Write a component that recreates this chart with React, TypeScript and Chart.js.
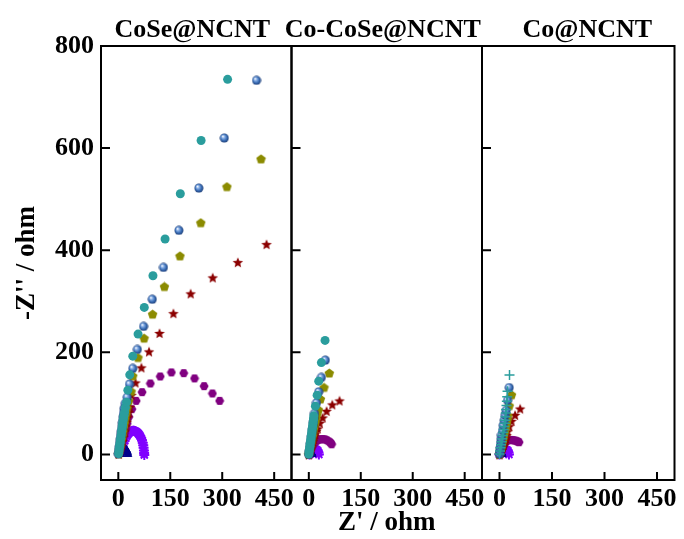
import React, { useEffect, useRef } from 'react';
import { Chart, registerables } from 'chart.js';

Chart.register(...registerables);

type Pt = [number, number];

// ---------- text / ticks ----------
const panelTitles = ['CoSe@NCNT', 'Co-CoSe@NCNT', 'Co@NCNT'];
const xAxisTitle = "Z' / ohm";
const yAxisTitle = "-Z'' / ohm";
const xTickValues = [0, 150, 300, 450];
const yTickValues = [0, 200, 400, 600, 800];
const xRange = [-50, 500];
const yRange = [-50, 800];

// ---------- panel 1 : CoSe@NCNT ----------
const cose_teal: Pt[] = [[1,2],[2,7],[3,12],[4,17],[5,22],[6,27],[7,32],[8,37],[9,42],[10,47],[11,52],[12,57],[13,62],[14,67],[15,72],[16.5,77],[18,83],[20.5,92],[23.7,102.5],[27.5,126],[33,156],[41.8,192.6],[57,235.7],[75,288],[100,350],[135,422],[179,510.6],[239,615],[315.5,734.7]];
const cose_blue: Pt[] = [[0,1],[1,5],[2,10],[3,15],[4,20],[5,25],[6,30],[7,35],[8,40],[9,45],[10,50],[11,56],[12,62],[13,68],[14,74],[15,81],[16,90],[20,100],[25.7,112],[32.3,137.7],[41.8,168.5],[55,205.7],[73,250.8],[98,304],[130.4,366.4],[175,439],[232.5,521.7],[306,619.7],[399,732.7]];
const cose_olive: Pt[] = [[1,1],[3,8],[5,15],[7,22],[9,29],[11,36],[13,44],[15,52],[17,60],[19,68],[22,78],[25,90],[30,104],[37,122.6],[41.8,153],[57,189],[74.4,227],[99,274],[133,328],[178,388],[238,453],[313.5,523.7],[412,578]];
const cose_red: Pt[] = [[1,1],[3,5],[6,11],[9,18],[12,26],[15,35],[18,45],[21,55],[24,64],[27,73],[30,83],[33,93.3],[38,116.8],[49.5,141],[66.6,170.5],[88.7,201.8],[119,238],[159,276.8],[208.8,315.4],[272.6,346.8],[345,376.8],[428,412]];
const cose_purple: Pt[] = [[1,2],[4,8],[7,14],[10,21],[13,28],[16,35],[19,42],[22,50],[25.7,60.7],[30.3,73.7],[39,88.8],[51.5,105],[68.6,122],[92.4,139],[121,152.8],[153.3,160.7],[188.8,159.3],[220,149],[247.7,133.8],[271.7,119.5],[292.6,105]];
const cose_violet: Pt[] = [[6,4],[9,10],[12,16],[15,22],[18,27],[21,32],[24,36],[27,39],[30,41.5],[33,43.5],[36,45],[39,46],[42,46.5],[45,46.5],[48,46],[51,45],[54,43.5],[57,41.5],[60,39],[63,36],[66,32],[68.5,28],[70.5,23],[72,18],[73,13],[74,8],[74.5,3],[75,-1]];
const cose_navy: Pt[] = [[10,0],[12,4],[14,7],[16,9],[18,10.5],[20,11],[22,10.5],[24,9],[26,7],[28,4],[29,0]];

// ---------- panel 2 : Co-CoSe@NCNT ----------
const cocose_teal: Pt[] = [[0,1],[1,6],[2,11],[3,16],[4,21],[5,26],[6,31],[7,36],[8,41],[9,46],[10,51],[11,56],[12,61],[13,66],[13.6,70],[14.3,75.6],[19,94.6],[24,116.2],[28.6,143.6],[36.3,180],[46.9,223.4]];
const cocose_blue: Pt[] = [[0,0],[1.5,7],[3,14],[4.5,21],[6,28],[7.5,35],[9,42],[10.5,49],[12,56],[13.5,63],[15,71],[16.3,80.3],[22,101],[28.6,122.6],[36.3,150.9],[47.7,184.7]];
const cocose_olive: Pt[] = [[0,0],[2,7],[4,14],[6,21],[8,28],[10,35],[12,42],[14,49],[16,56],[18,62],[20,68],[23,76],[27.7,86.8],[33.4,107.8],[44,130.5],[59,158.7]];
const cocose_red: Pt[] = [[0,0],[2,4],[4,8],[6,12],[8,16],[10,21],[12,26],[14,31],[16,36],[18,41],[21,46],[25.7,51],[31.4,62],[40,72.5],[51.4,85.4],[67.7,98],[88.6,105.8]];
const cocose_purple: Pt[] = [[0,0],[2,3.5],[4,7],[6,10.5],[8,14],[11,17.5],[14,21],[18,24],[22,26.5],[27,28.5],[32,29.5],[37,30],[42,30],[47,29.5],[52,28],[57,26],[61,24],[64,22],[66,20]];
const cocose_violet: Pt[] = [[2,0],[5,2],[8,4],[11,6],[14,8],[17,9.5],[20,10],[23,9],[26,7],[28,4],[29,0]];
const cocose_navy: Pt[] = [[0,0],[2,2],[4,3.5],[6,4],[8,3.5],[10,2],[11,0]];

// ---------- panel 3 : Co@NCNT ----------
const co_teal: Pt[] = [[0,1],[1.5,7],[3,13],[4.5,19],[6,25],[7.5,31],[9,37],[10.5,43],[12,49],[13.5,55],[15,61],[16,67],[17,74],[18,81],[19,88],[20,96],[21,104],[22,113],[23,124],[28.6,155.7]];
const co_blue: Pt[] = [[0,1],[1,7],[2,13],[3,19],[4,25],[5,31],[5.7,38],[8.6,47],[10.6,57],[13.4,67],[16.3,77],[19,86],[22.9,106],[27.7,131]];
const co_olive: Pt[] = [[0,0],[2,6],[4,12],[6,18],[8,24],[10,30],[12,36],[14,42],[16,48],[18,54],[20,60],[22,67],[24,75],[27.7,94.6],[34.3,116]];
const co_red: Pt[] = [[0,0],[2,3],[4,6],[6,9],[8,12],[10,15.5],[12,19],[14,23],[16,27.5],[18,32],[20,38],[22.9,45.6],[27.7,55.4],[34.3,65.8],[44.6,77.6],[59,90]];
const co_purple: Pt[] = [[0,0],[2,3.5],[4,7],[6,10.5],[8,14],[10,17],[12,20],[15,23],[18,25],[22,27],[26,28],[30,28.5],[34,28.5],[38,28],[42,27.5],[46,27],[50,26],[53,25],[56,24]];
const co_violet: Pt[] = [[0,0],[3,2],[6,4],[9,6],[12,8],[15,9],[18,9.5],[21,9],[24,7],[26,4],[27,0]];
const co_navy: Pt[] = [[0,0],[2,2],[4,3],[6,3],[8,2],[9,0]];

const FONT = '"Liberation Serif", "Times New Roman", serif';

const COLORS = {
  teal: '#2a9d9d',
  blue: '#3568b0',
  olive: '#8b8b00',
  red: '#8b0000',
  purple: '#800080',
  violet: '#8000ff',
  navy: '#00008b',
};

function makeMarker(kind: string, color: string, size: number): HTMLCanvasElement {
  const c = document.createElement('canvas');
  c.width = size;
  c.height = size;
  const g = c.getContext('2d')!;
  const cx = size / 2, cy = size / 2, r = size / 2 - 0.5;
  g.beginPath();
  if (kind === 'sphere') {
    const grad = g.createRadialGradient(cx - r * 0.35, cy - r * 0.4, 0.3, cx, cy, r);
    grad.addColorStop(0, '#ffffff');
    grad.addColorStop(0.3, '#86aee6');
    grad.addColorStop(0.7, color);
    grad.addColorStop(1, '#1f3f78');
    g.fillStyle = grad;
    g.arc(cx, cy, r, 0, Math.PI * 2);
    g.fill();
    return c;
  }
  const n = kind === 'pentagon' ? 5 : kind === 'hexagon' ? 6 : 10;
  for (let i = 0; i < n; i++) {
    const ang = -Math.PI / 2 + (i * 2 * Math.PI) / n + (kind === 'hexagon' ? Math.PI / 6 : 0);
    const rr = kind === 'star' && i % 2 === 1 ? r * 0.45 : r;
    const px = cx + rr * Math.cos(ang);
    const py = cy + rr * Math.sin(ang) + (kind === 'star' ? 0.8 : 0);
    if (i === 0) g.moveTo(px, py);
    else g.lineTo(px, py);
  }
  g.closePath();
  g.fillStyle = color;
  g.fill();
  return c;
}

const decorPlugin = {
  id: 'panelDecor',
  afterDatasetsDraw(chart: any, _args: any, opts: any) {
    const { ctx, chartArea: a, scales } = chart;
    ctx.save();
    ctx.strokeStyle = '#000';
    ctx.lineWidth = 2;
    ctx.strokeRect(a.left, a.top, a.right - a.left, a.bottom - a.top);
    ctx.beginPath();
    for (const v of xTickValues) {
      const px = scales.x.getPixelForValue(v);
      ctx.moveTo(px, a.bottom);
      ctx.lineTo(px, a.bottom - 8);
    }
    for (const v of yTickValues) {
      const py = scales.y.getPixelForValue(v);
      ctx.moveTo(a.left, py);
      ctx.lineTo(a.left + 9, py);
    }
    ctx.stroke();
    ctx.fillStyle = '#000';
    ctx.font = `bold 26px ${FONT}`;
    ctx.textAlign = 'center';
    ctx.textBaseline = 'alphabetic';
    ctx.fillText(opts.title, (a.left + a.right) / 2 + opts.dx, 37);
    ctx.restore();
  },
};

interface PanelSpec {
  title: string;
  teal: Pt[]; blue: Pt[]; olive: Pt[]; red: Pt[]; purple: Pt[]; violet: Pt[]; navy: Pt[];
  tealCross: boolean;
  left: number; width: number; padLeft: number; padRight: number;
  showY: boolean; showXTitle: boolean; titleDx: number;
}

const panels: PanelSpec[] = [
  { title: panelTitles[0], teal: cose_teal, blue: cose_blue, olive: cose_olive, red: cose_red, purple: cose_purple, violet: cose_violet, navy: cose_navy, tealCross: false,
    left: 0, width: 320, padLeft: 0, padRight: 28.5, showY: true, showXTitle: false, titleDx: -4 },
  { title: panelTitles[1], teal: cocose_teal, blue: cocose_blue, olive: cocose_olive, red: cocose_red, purple: cocose_purple, violet: cocose_violet, navy: cocose_navy, tealCross: false,
    left: 262, width: 250, padLeft: 29.5, padRight: 30, showY: false, showXTitle: true, titleDx: -4 },
  { title: panelTitles[2], teal: co_teal, blue: co_blue, olive: co_olive, red: co_red, purple: co_purple, violet: co_violet, navy: co_navy, tealCross: true,
    left: 452, width: 232, padLeft: 30, padRight: 9.5, showY: false, showXTitle: false, titleDx: 9 },
];

const toXY = (a: Pt[]) => a.map(([x, y]) => ({ x, y }));

export default function App() {
  const refs = [useRef<HTMLCanvasElement>(null), useRef<HTMLCanvasElement>(null), useRef<HTMLCanvasElement>(null)];

  useEffect(() => {
    const sphere = makeMarker('sphere', COLORS.blue, 10);
    const pentagon = makeMarker('pentagon', COLORS.olive, 11);
    const star = makeMarker('star', COLORS.red, 12);
    const hexagon = makeMarker('hexagon', COLORS.purple, 10);

    const charts = panels.map((p, i) => {
      const canvas = refs[i].current!;
      const ds = (data: Pt[], extra: any) => ({
        data: toXY(data),
        showLine: false,
        pointRadius: 4.5,
        pointHoverRadius: 4.5,
        ...extra,
      });
      return new Chart(canvas, {
        type: 'scatter',
        data: {
          datasets: [
            ds(p.teal, p.tealCross
              ? { pointStyle: 'cross', pointRadius: 5, borderColor: COLORS.teal, backgroundColor: COLORS.teal, pointBorderWidth: 1.5 }
              : { pointStyle: 'circle', backgroundColor: COLORS.teal, borderColor: COLORS.teal, pointBorderWidth: 0 }),
            ds(p.blue, { pointStyle: sphere }),
            ds(p.olive, { pointStyle: pentagon }),
            ds(p.red, { pointStyle: star }),
            ds(p.purple, { pointStyle: hexagon }),
            ds(p.navy, { pointStyle: 'triangle', pointRadius: 4, backgroundColor: COLORS.navy, borderColor: COLORS.navy, pointBorderWidth: 1 }),
            ds(p.violet, { pointStyle: 'star', pointRadius: 5, backgroundColor: COLORS.violet, borderColor: COLORS.violet, pointBorderWidth: 2 }),
          ],
        },
        options: {
          responsive: false,
          animation: false,
          events: [],
          layout: { padding: { top: 46, bottom: 0, left: p.padLeft, right: p.padRight } },
          plugins: {
            legend: { display: false },
            tooltip: { enabled: false },
            panelDecor: { title: p.title, dx: p.titleDx },
          } as any,
          scales: {
            x: {
              type: 'linear',
              min: xRange[0],
              max: xRange[1],
              grid: { display: false, drawTicks: false },
              border: { display: false },
              afterBuildTicks: (s: any) => { s.ticks = xTickValues.map((v) => ({ value: v })); },
              afterFit: (s: any) => { s.height = 59; },
              ticks: {
                color: '#000',
                padding: 4,
                maxRotation: 0,
                autoSkip: false,
                font: { family: FONT, size: 26, weight: 'bold' },
              },
              title: {
                display: p.showXTitle,
                text: xAxisTitle,
                color: '#000',
                padding: 0,
                font: { family: FONT, size: 27, weight: 'bold' },
              },
            },
            y: {
              type: 'linear',
              display: p.showY,
              min: yRange[0],
              max: yRange[1],
              grid: { display: false, drawTicks: false },
              border: { display: false },
              afterBuildTicks: (s: any) => { s.ticks = yTickValues.map((v) => ({ value: v })); },
              afterFit: (s: any) => { s.width = p.showY ? 101 : 0; },
              ticks: {
                color: '#000',
                padding: 7,
                font: { family: FONT, size: 26, weight: 'bold' },
              },
              title: {
                display: true,
                text: yAxisTitle,
                color: '#000',
                padding: { top: 11, bottom: 0 },
                font: { family: FONT, size: 27, weight: 'bold' },
              },
            },
          },
        } as any,
        plugins: [decorPlugin],
      });
    });
    return () => charts.forEach((c) => c.destroy());
  }, []);

  return (
    <div style={{ position: 'absolute', left: 0, top: 0, width: 684, height: 539, background: '#fff' }}>
      {panels.map((p, i) => (
        <canvas
          key={i}
          ref={refs[i]}
          width={p.width}
          height={539}
          style={{ position: 'absolute', left: p.left, top: 0, width: p.width, height: 539 }}
        />
      ))}
    </div>
  );
}
